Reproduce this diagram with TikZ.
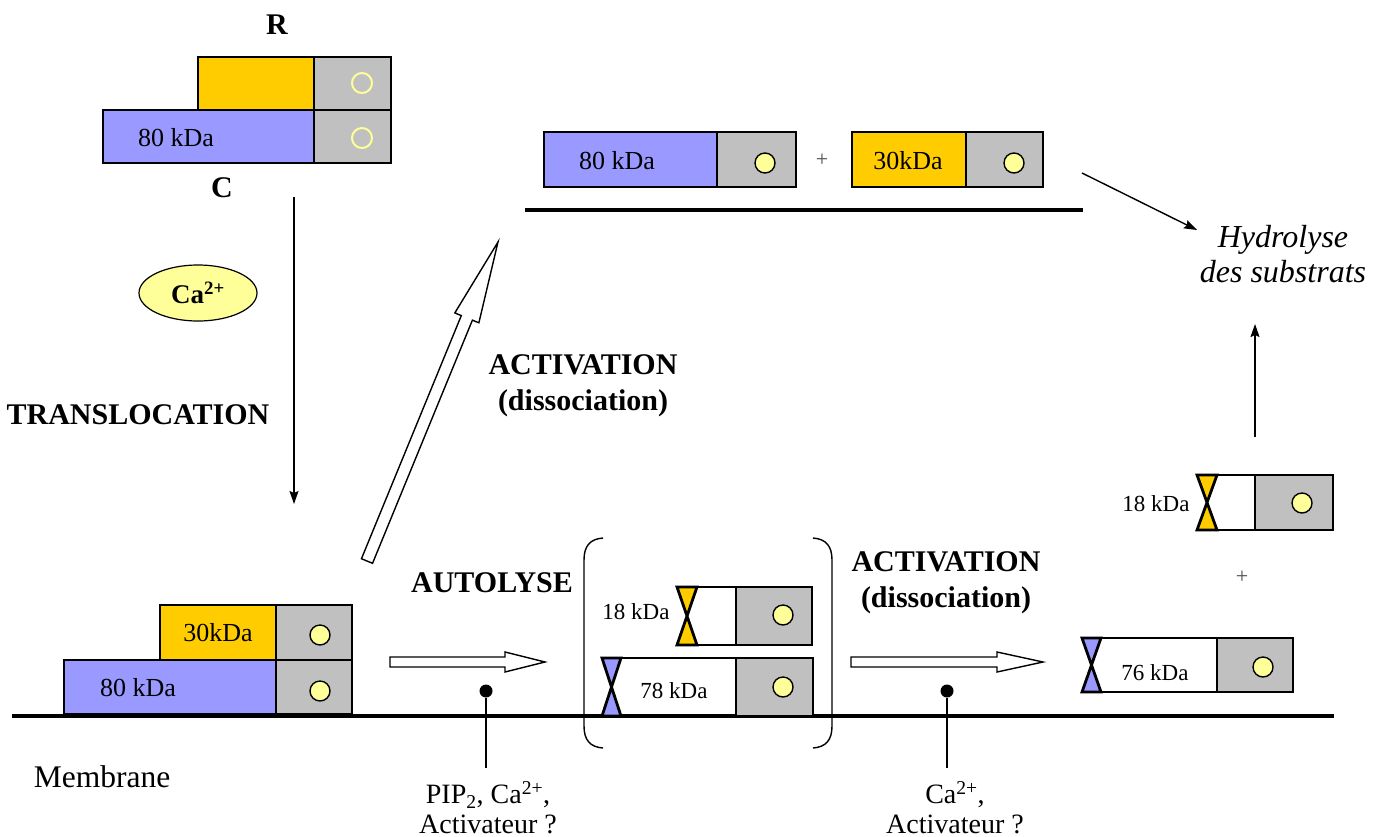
\documentclass[tikz,border=0pt]{standalone}
\usepackage{fontspec}
\setmainfont{Liberation Serif}
\usetikzlibrary{calc,arrows.meta,shapes.geometric}

\definecolor{cblue}{RGB}{153,153,255}
\definecolor{cyel}{RGB}{255,204,0}
\definecolor{cgrey}{RGB}{192,192,192}
\definecolor{cpale}{RGB}{255,255,153}

% open block arrow from #1 to #2: shaft half-width #3, head half-width #4, head length #5, helper name #6
\newcommand{\blockarrow}[6]{%
  \coordinate (#6) at ($(#2)!#5!(#1)$);
  \draw[hollow] ($(#1)!#3!90:(#2)$) -- ($(#6)!#3!90:(#2)$) -- ($(#6)!#4!90:(#2)$) -- (#2)
    -- ($(#6)!#4!-90:(#2)$) -- ($(#6)!#3!-90:(#2)$) -- ($(#1)!#3!-90:(#2)$) -- cycle;}

\begin{document}
\begin{tikzpicture}[x=1pt,y=-1pt,
  boxline/.style={line width=2.8pt, line join=miter},
  hollow/.style={line width=1.4pt, fill=white, line join=miter},
  thin/.style={line width=1.4pt, -{Stealth[length=13pt,width=9pt,inset=2pt]}},
  mem/.style={line width=3.6pt},
  site/.style={line width=1.4pt},
  dot/.style={circle, fill=black, inner sep=0pt, minimum size=13pt},
  bead/.style={fill=cpale, draw=black, line width=1.4pt},
  ring/.style={draw=cpale, line width=2pt},
  kda/.style={font=\fontsize{26}{30}\selectfont, inner sep=0pt},
  kdas/.style={font=\fontsize{23}{28}\selectfont, inner sep=0pt},
  step label/.style={font=\bfseries\fontsize{30}{36}\selectfont, align=center, inner sep=0pt},
  note/.style={font=\fontsize{28}{30}\selectfont, align=center, inner sep=0pt},
  plus/.style={font=\fontsize{22}{26}\selectfont, text=black!70, inner sep=0pt}]
\useasboundingbox (0,0) rectangle (1383,836);

% ---------- inactive heterodimer (cytosol) ----------
\node[step label] (R) at (277,25) {R};
\draw[boxline, fill=cyel]  (198,57)  rectangle (314,110);
\draw[boxline, fill=cgrey] (314,57)  rectangle (391,110);
\draw[boxline, fill=cblue] (103,110) rectangle (314,163);
\draw[boxline, fill=cgrey] (314,110) rectangle (391,163);
\draw[ring] (362,83) circle[radius=10];
\draw[ring] (362,138) circle[radius=10];
\node[kda] (c80a) at (176,138) {80 kDa};
\node[step label] (C) at (222,188) {C};

\node[ellipse, draw=black, line width=1.2pt, fill=cpale, minimum width=118pt, minimum height=56pt,
      font=\bfseries\fontsize{27}{30}\selectfont] (ca) at (198,293) {Ca\textsuperscript{2+}};
\node[step label] (transl) at (138,415) {TRANSLOCATION};

\coordinate (tA) at (294,197);
\coordinate (tB) at (294,504);
\draw[thin] (tA) -- (tB);

% ---------- dissociated subunits ----------
\draw[boxline, fill=cblue] (544,132) rectangle (717,187);
\draw[boxline, fill=cgrey] (717,132) rectangle (796,187);
\draw[bead] (765,163) circle[radius=10];
\node[kda] (c80b) at (617,161) {80 kDa};
\node[plus] (p1) at (822,160) {+};
\draw[boxline, fill=cyel]  (852,132) rectangle (966,187);
\draw[boxline, fill=cgrey] (966,132) rectangle (1043,187);
\draw[bead] (1014,163) circle[radius=10];
\node[kda] (r30b) at (908,161) {30kDa};
\coordinate (barL) at (525,210);
\coordinate (barR) at (1083,210);
\draw[mem] (barL) -- (barR);

\coordinate (hA) at (1082,173);
\coordinate (hB) at (1197,230);
\draw[thin] (hA) -- (hB);
\node[font=\itshape\fontsize{32}{35}\selectfont, align=center, inner sep=0pt] (hydro) at (1283,254)
  {Hydrolyse\\des substrats};

\coordinate (uA) at (1255,437);
\coordinate (uB) at (1255,324);
\draw[thin] (uA) -- (uB);

% ---------- activation from the membrane ----------
\coordinate (dA) at (367,561);
\coordinate (dB) at (498,242);
\blockarrow{dA}{dB}{6pt}{13pt}{82pt}{dH}
\node[step label] (act1) at (583,386) {ACTIVATION\\(dissociation)};

% ---------- membrane ----------
\coordinate (mL) at (12,716);
\coordinate (mR) at (1334,716);
\draw[mem] (mL) -- (mR);
\node[font=\fontsize{31.5}{34}\selectfont, inner sep=0pt] (memb) at (102,777) {Membrane};

% heterodimer bound to the membrane
\draw[boxline, fill=cyel]  (160,605) rectangle (276,660);
\draw[boxline, fill=cgrey] (276,605) rectangle (352,660);
\draw[boxline, fill=cblue] (64,660)  rectangle (276,714);
\draw[boxline, fill=cgrey] (276,660) rectangle (352,714);
\draw[bead] (320,635) circle[radius=10];
\draw[bead] (320,691) circle[radius=10];
\node[kda] (r30c) at (218,633) {30kDa};
\node[kda] (c80c) at (138,688) {80 kDa};

% autolysis
\node[step label] (autol) at (492,583) {AUTOLYSE};
\coordinate (aA) at (390,662);
\coordinate (aB) at (545,662);
\blockarrow{aA}{aB}{5pt}{10pt}{40pt}{aH}
\node[dot] (d1) at (486,691) {};
\coordinate (d1e) at (486,768);
\draw[site] (d1) -- (d1e);
\node[note] (f1) at (488,808) {PIP\textsubscript{2}, Ca\textsuperscript{2+},\\Activateur ?};

% bracketed autolysis products
\draw[line width=1.4pt] (603,538) .. controls (590,539) and (584,546) .. (584,560) -- (584,726)
  .. controls (584,740) and (590,747) .. (603,748);
\draw[line width=1.4pt] (813,538) .. controls (826,539) and (832,546) .. (832,560) -- (832,726)
  .. controls (832,740) and (826,747) .. (813,748);

\draw[boxline, fill=cyel] (677,587) -- (697,587) -- (687,616) -- cycle (677,645) -- (697,645) -- (687,616) -- cycle;
\draw[boxline] (697,587) -- (736,587) (697,645) -- (736,645);
\draw[boxline, fill=cgrey] (736,587) rectangle (812,645);
\draw[bead] (783,615) circle[radius=10];
\node[kdas] (r18a) at (636,612) {18 kDa};

\draw[boxline, fill=cblue] (602,658) -- (621,658) -- (611.5,687) -- cycle (602,716) -- (621,716) -- (611.5,687) -- cycle;
\draw[boxline] (621,658) -- (736,658) (621,716) -- (736,716);
\draw[boxline, fill=cgrey] (736,658) rectangle (813,716);
\draw[bead] (783,687) circle[radius=10];
\node[kdas] (c78) at (674,691) {78 kDa};

% second activation
\node[step label] (act2) at (946,583) {ACTIVATION\\(dissociation)};
\coordinate (bA) at (851,662);
\coordinate (bB) at (1043,662);
\blockarrow{bA}{bB}{5pt}{10pt}{46pt}{bH}
\node[dot] (d2) at (947,691) {};
\coordinate (d2e) at (947,768);
\draw[site] (d2) -- (d2e);
\node[note] (f2) at (955,808) {Ca\textsuperscript{2+},\\Activateur ?};

% final active fragments
\draw[boxline, fill=cyel] (1197,475) -- (1217,475) -- (1207,502.5) -- cycle (1197,530) -- (1217,530) -- (1207,502.5) -- cycle;
\draw[boxline] (1217,475) -- (1255,475) (1217,530) -- (1255,530);
\draw[boxline, fill=cgrey] (1255,475) rectangle (1333,530);
\draw[bead] (1302,503) circle[radius=10];
\node[kdas] (r18b) at (1156,504) {18 kDa};

\node[plus] (p2) at (1242,577) {+};

\draw[boxline, fill=cblue] (1082,638) -- (1101,638) -- (1091.5,665) -- cycle (1082,692) -- (1101,692) -- (1091.5,665) -- cycle;
\draw[boxline] (1101,638) -- (1217,638) (1101,692) -- (1217,692);
\draw[boxline, fill=cgrey] (1217,638) rectangle (1293,692);
\draw[bead] (1263,667) circle[radius=10];
\node[kdas] (c76) at (1155,673) {76 kDa};
\end{tikzpicture}
\end{document}
